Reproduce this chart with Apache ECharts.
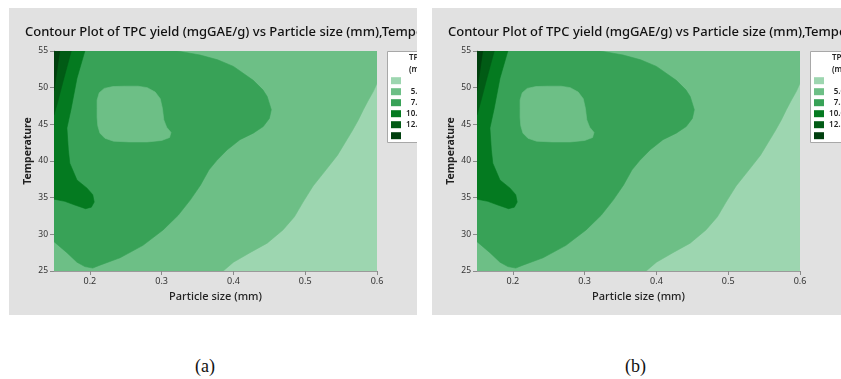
<!DOCTYPE html>
<html><head><meta charset="utf-8">
<script src="https://cdn.jsdelivr.net/npm/echarts@6/dist/echarts.min.js"></script>
<style>
html,body{margin:0;padding:0;background:#fff;width:841px;height:379px;overflow:hidden;position:relative}
.panel{position:absolute;top:8px;height:307px;background:#e1e1e1}
.cap{position:absolute;top:356px;font-family:'Liberation Serif','DejaVu Serif',serif;font-size:18px;color:#111;line-height:20px}
</style></head><body>
<div id="pa" class="panel" style="left:9px;width:408px"></div>
<div id="pb" class="panel" style="left:432px;width:409px"></div>
<div class="cap" style="left:195px">(a)</div>
<div class="cap" style="left:625px">(b)</div>
<script>
// ---------- data ----------
const titleText = 'Contour Plot of TPC yield (mgGAE/g) vs Particle size (mm),Temperature (°C)';
const xAxisName = 'Particle size (mm)';
const yAxisName = 'Temperature';
const xRange = [0.15, 0.6];
const yRange = [25, 55];
const xTicks = [0.2, 0.3, 0.4, 0.5, 0.6];
const yTicks = [25, 30, 35, 40, 45, 50, 55];
const legendTitle = ['TPC yield', '(mgGAE/g)'];
const levelLabels = ['< 5.0', '5.0 – 7.5', '7.5 – 10.0', '10.0 – 12.5', '12.5 – 15.0', '> 15.0'];

// contour regions (particle size, temperature)
const regionBelow5 = [[0.15,25],[0.6,25],[0.6,55],[0.15,55]];
const regionAbove5 = [[0.15,25],[0.3857,25],[0.400,26.2],[0.423,27.5],[0.447,28.8],[0.469,30.6],[0.485,32.4],
  [0.497,34.4],[0.511,36.6],[0.529,38.8],[0.545,40.8],[0.558,42.9],[0.566,44.2],[0.574,45.6],[0.581,47.0],
  [0.588,48.3],[0.595,49.5],[0.6,50.6],[0.6,55],[0.15,55]];
const regionAbove7_5 = [[0.15,55],[0.3215,55],[0.3536,54.45],[0.378,53.8],[0.400,52.9],[0.4276,51.0],[0.441,49.7],
  [0.447,48.8],[0.4527,47.0],[0.4500,45.8],[0.4415,44.7],[0.4276,43.8],[0.409,42.9],[0.391,41.5],[0.377,40.1],
  [0.366,38.8],[0.354,36.7],[0.340,34.7],[0.323,32.6],[0.302,30.6],[0.274,28.5],[0.242,26.8],[0.214,25.8],
  [0.204,25.4],[0.193,25.6],[0.182,26.2],[0.168,27.5],[0.15,29.0]];
const islandBelow7_5 = [[0.210,48.3],[0.213,49.3],[0.220,49.9],[0.232,50.15],[0.249,50.2],[0.267,50.2],[0.280,50.0],
  [0.291,49.4],[0.298,48.5],[0.301,47.2],[0.303,45.6],[0.307,44.6],[0.313,43.9],[0.311,43.2],[0.300,42.8],
  [0.280,42.6],[0.255,42.6],[0.233,42.7],[0.221,43.1],[0.214,43.8],[0.211,44.8],[0.210,46.0],[0.210,47.2]];
const regionAbove10 = [[0.15,55],[0.193,55],[0.182,51.3],[0.174,47.2],[0.168,44.5],[0.170,41.5],[0.172,39.7],
  [0.182,37.4],[0.196,36.3],[0.204,35.4],[0.206,34.4],[0.202,33.7],[0.194,33.5],[0.179,34.0],[0.165,34.5],[0.15,34.8]];
const regionAbove12_5 = [[0.15,55],[0.174,55],[0.163,51],[0.155,48],[0.15,46.3]];
const regionAbove15 = [[0.15,55],[0.158,55],[0.15,49.6]];

// ---------- styles ----------
const levelColors = ['#9dd6b0', '#6dbf86', '#38a257', '#047a20', '#015b15', '#003f0e'];
const FONT = "'Noto Sans', 'Open Sans', sans-serif";

const layers = [
  [regionBelow5, 0], [regionAbove5, 1], [regionAbove7_5, 2], [islandBelow7_5, 1],
  [regionAbove10, 3], [regionAbove12_5, 4], [regionAbove15, 5]
];

function polySeries(points, color, z) {
  return {
    type: 'custom', coordinateSystem: 'cartesian2d', silent: true, clip: true, z: z,
    data: [points[0]],
    renderItem: function (params, api) {
      return {
        type: 'polygon',
        shape: { points: points.map(p => api.coord(p)) },
        style: { fill: color, stroke: color, lineWidth: 0.6 }
      };
    }
  };
}

function graphics() {
  const g = [];
  // y axis title
  g.push({ type: 'text', x: 19, y: 143, rotation: Math.PI / 2,
    style: { text: yAxisName, font: 'bold 10.5px ' + FONT, fill: '#222', textAlign: 'center', textVerticalAlign: 'middle' } });
  // legend
  g.push({ type: 'rect', left: 378, top: 43, shape: { width: 80, height: 91 },
    style: { fill: '#ffffff', stroke: '#a8a8a8', lineWidth: 1 }, z: 10 });
  legendTitle.forEach((t, i) => g.push({ type: 'text', x: 400, y: 50 + 12 * i,
    style: { text: t, font: '600 8px ' + FONT, fill: '#222', textVerticalAlign: 'middle' }, z: 11 }));
  levelLabels.forEach((lab, i) => {
    const cy = 72.7 + 11 * i;
    g.push({ type: 'rect', shape: { x: 382, y: cy - 3.5, width: 10, height: 7 },
      style: { fill: levelColors[i] }, z: 11 });
    const parts = lab.split(' – ');
    if (parts.length === 2) {
      g.push({ type: 'text', x: 413, y: cy, style: { text: parts[0], font: '600 8px ' + FONT, fill: '#222',
        textAlign: 'right', textVerticalAlign: 'middle' }, z: 11 });
      g.push({ type: 'text', x: 413, y: cy, style: { text: ' – ' + parts[1], font: '600 8px ' + FONT, fill: '#222',
        textAlign: 'left', textVerticalAlign: 'middle' }, z: 11 });
    } else {
      g.push({ type: 'text', x: 420, y: cy, style: { text: lab, font: '600 8px ' + FONT, fill: '#222',
        textAlign: 'left', textVerticalAlign: 'middle' }, z: 11 });
    }
  });
  return g;
}

function buildOption() {
  return {
    animation: false,
    backgroundColor: '#e1e1e1',
    title: { text: titleText, left: 11, top: 13,
      textStyle: { fontFamily: FONT, fontSize: 13, fontWeight: 500, color: '#111' } },
    grid: { left: 45, top: 43, width: 323, height: 220 },
    xAxis: {
      type: 'value', min: xRange[0], max: xRange[1],
      name: xAxisName, nameLocation: 'middle', nameGap: 20,
      nameTextStyle: { fontFamily: FONT, fontSize: 11, color: '#222', fontWeight: 500 },
      axisLine: { show: true, onZero: false, lineStyle: { color: '#9a9a9a' } },
      axisTick: { show: true, customValues: xTicks, length: 4, lineStyle: { color: '#8a8a8a' } },
      axisLabel: { customValues: xTicks, formatter: v => Number(v).toFixed(1), margin: 6,
        fontFamily: FONT, fontSize: 9, color: '#333' },
      splitLine: { show: false }
    },
    yAxis: {
      type: 'value', min: yRange[0], max: yRange[1], interval: 5,
      axisLine: { show: true, onZero: false, lineStyle: { color: '#9a9a9a' } },
      axisTick: { show: true, length: 4, lineStyle: { color: '#8a8a8a' } },
      axisLabel: { margin: 6, fontFamily: FONT, fontSize: 8.5, color: '#333' },
      splitLine: { show: false }
    },
    graphic: graphics(),
    series: layers.map((l, i) => polySeries(l[0], levelColors[l[1]], 1 + i))
  };
}

['pa', 'pb'].forEach(id => {
  const c = echarts.init(document.getElementById(id), null, { renderer: 'canvas' });
  c.setOption(buildOption());
});
</script>
</body></html>
